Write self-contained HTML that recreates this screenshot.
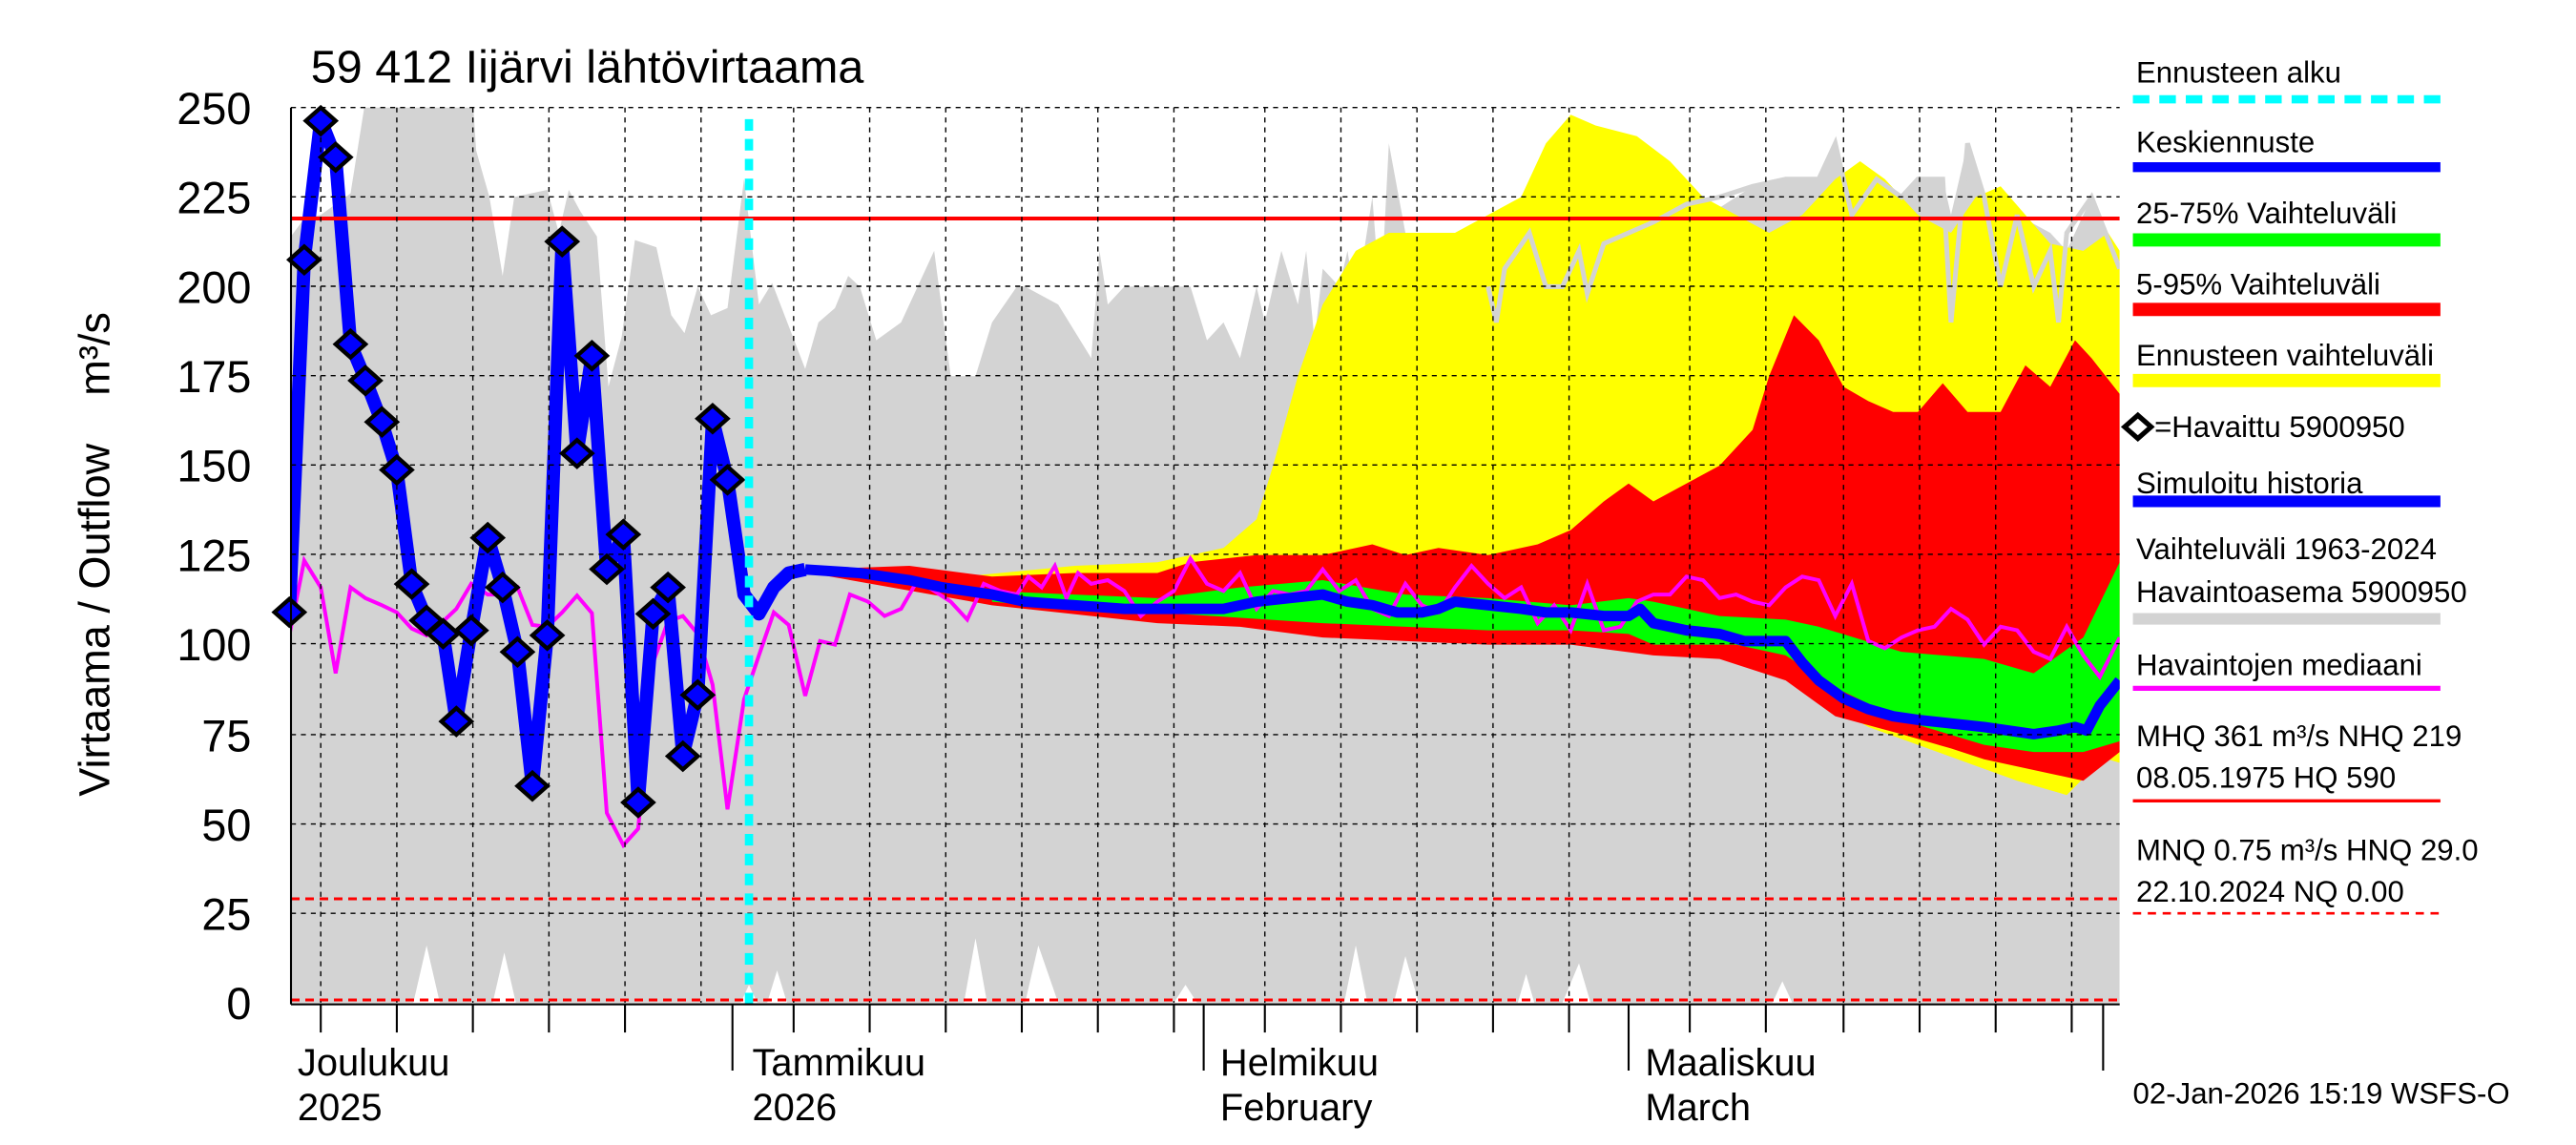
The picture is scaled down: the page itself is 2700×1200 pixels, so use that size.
<!DOCTYPE html>
<html><head><meta charset="utf-8"><style>
html,body{margin:0;padding:0;background:#fff;}
svg{display:block;}
text{font-family:"Liberation Sans",sans-serif;fill:#000;}
</style></head><body>
<svg width="2700" height="1200" viewBox="0 0 1558 692" preserveAspectRatio="none" xmlns="http://www.w3.org/2000/svg">
<defs><clipPath id="pc"><rect x="176" y="65" width="1106" height="542"/></clipPath></defs>
<g clip-path="url(#pc)">
<g transform="translate(0,606) scale(1,-2.164)">
<polygon fill="#d3d3d3" points="176,0 176,214 184,219 194,220 212,226 221,252 286,252 288,238 296,225 304,203 311,225 331,227 338,215 344,227 351,221 361,214 368,172 376,186 384,213 397,211 406,192 414,187 422,200 430,192 440,194 450,230 459,195 467,201 477,189 487,177 495,190 505,194 513,203 520,200 530,185 545,190 560,205 565,210 575,175 590,175 600,190 615,200 620,200 640,195 660,180 665,210 670,195 680,200 700,200 720,200 730,185 740,190 750,180 760,200 765,190 775,210 785,195 790,210 795,185 800,205 810,200 815,210 820,195 830,225 835,195 840,240 850,215 860,200 870,195 880,200 890,210 900,200 905,190 910,205 925,215 935,225 945,222 955,230 970,225 985,230 1000,230 1020,228 1040,222 1060,228 1080,230 1100,230 1110,240 1120,220 1135,230 1150,225 1160,230 1175,230 1180,220 1190,240 1200,225 1210,200 1220,220 1240,215 1250,210 1265,225 1282,205 1282,0"/>
<g fill="#fff">
<polygon points="250,0 258,16 266,0"/><polygon points="298,0 305,14 312,0"/>
<polygon points="448,0 453,5 458,0"/><polygon points="464,0 470,9 476,0"/>
<polygon points="583,0 590,18 597,0"/><polygon points="620,0 628,16 640,0"/>
<polygon points="710,0 717,5 724,0"/><polygon points="813,0 820,16 827,0"/>
<polygon points="843,0 850,13 858,0"/><polygon points="918,0 923,8 928,0"/>
<polygon points="945,0 955,11 962,0"/><polygon points="1072,0 1078,6 1084,0"/>
</g>
<polygon fill="#ffff00" points="490,120 560,118 650,122 700,123 740,127 760,135 770,150 785,175 800,195 820,210 840,215 860,215 880,215 900,220 920,225 935,240 950,248 965,245 990,242 1010,235 1030,225 1050,220 1070,215 1090,220 1100,225 1110,230 1125,235 1140,230 1160,220 1180,215 1195,225 1210,228 1225,220 1240,212 1260,210 1275,215 1282,210 1282,67 1275,68 1265,65 1250,58 1220,62 1190,67 1160,72 1130,77 1100,85 1080,92 1060,97 1000,98 950,101 900,102 800,104 700,108 600,112"/>
<polygon fill="#ff0000" points="490,121 550,122 600,119 650,120 700,120 720,123 760,125 800,125 830,128 850,125 870,127 900,125 930,128 950,132 970,140 985,145 1000,140 1020,145 1040,150 1060,160 1070,175 1085,192 1100,185 1115,172 1130,168 1145,165 1160,165 1175,173 1190,165 1210,165 1225,178 1240,172 1255,185 1265,180 1282,170 1282,70 1260,62 1240,64 1200,68 1180,71 1150,75 1110,80 1080,90 1040,96 1000,97 950,100 900,100 800,102 750,105 700,106 600,111 490,120"/>
<polygon fill="#00ff00" points="600,115 650,114 700,113 750,116 800,118 850,114 900,113 950,111 985,113 1000,112 1040,108 1080,107 1100,105 1150,98 1200,96 1230,92 1260,102 1282,123 1282,73 1260,70 1230,70 1200,72 1150,79 1110,88 1080,97 1050,100 1000,100 985,103 950,104 900,104 800,106 700,109 650,110 600,112"/>
<polyline fill="none" stroke="#d3d3d3" stroke-width="5" vector-effect="non-scaling-stroke" points="900,200 905,190 910,205 925,215 935,200 945,200 955,210 960,198 970,212 985,215 1000,218 1020,223 1040,225 1060,228 1080,230 1100,230 1110,240 1120,220 1135,230 1150,225 1160,230 1175,230 1180,190 1190,240 1200,225 1210,200 1220,220 1230,200 1240,210 1245,190 1250,215 1265,225 1282,205"/>
<polyline fill="none" stroke="#ff00ff" stroke-width="4" vector-effect="non-scaling-stroke" points="175,102.6 184,123.5 194,116 203,92 212,116 221,113 231,111 240,109 249,104.5 258,102.6 268,106.5 276,110 285,117 295,114 304,114 313,116 322,105.5 331,105 340,109 349,113.7 358,108.8 367,53 377,44 386,48.6 395,95 404,106.5 413,108 422,103 431,88.8 440,54 450,84.7 459,97 468,109 477,105.5 487,85.7 496,101 505,100 514,114 525,112 535,108 545,110 555,118 565,115 575,112 585,107 595,117 605,115 615,114 622,119 630,116 638,122 645,113 652,120 660,117 670,118 680,115 690,108 700,112 710,115 720,124 730,117 740,115 750,120 760,110 770,115 780,114 790,115 800,121 810,115 820,118 830,110 840,108 850,117 860,111 870,109 880,116 890,122 900,117 910,113 920,116 930,106 940,111 950,104 960,117 970,104 980,105 990,112 1000,114 1010,114 1020,119 1030,118 1040,113 1050,114 1060,112 1070,111 1080,116 1090,119 1100,118 1110,108 1120,117 1130,101 1140,99 1150,102 1160,104 1170,105 1180,110 1190,107 1200,100 1210,105 1220,104 1230,98 1240,96 1250,105 1260,97 1270,91 1282,102"/>
<polyline fill="none" stroke="#0000ff" stroke-width="11" vector-effect="non-scaling-stroke" stroke-linejoin="round" points="487,121 520,120 550,118 570,116 600,114 620,112 650,111 680,110 700,110 720,110 740,110 760,112 780,113 800,114 815,112 830,111 845,109 860,109 870,110 880,112 900,111 920,110 935,109 950,109 970,108 985,108 992,110 1000,106 1020,104 1040,103 1055,101 1070,101 1080,101 1090,95 1100,90 1115,85 1130,82 1145,80 1160,79 1180,78 1200,77 1215,76 1230,75 1245,76 1255,77 1262,76 1270,83 1282,90"/>
<polyline fill="none" stroke="#0000ff" stroke-width="14" vector-effect="non-scaling-stroke" stroke-linejoin="round" points="175,109 184,207.5 194,246.5 203,236 212,184 221,174 231,162 240,148.6 249,117 258,107 268,103 276,78.6 285,104 295,130 304,116 313,98 322,60.6 331,102.7 340,212.6 349,153.5 358,180.6 367,121 377,130.6 386,56 395,108.6 404,116 413,69 422,86 431,163 440,146 450,114 459,108.6 468,116 477,120 487,121"/>
<line x1="176" x2="1282" y1="219" y2="219" stroke="#ff0000" stroke-width="4" vector-effect="non-scaling-stroke"/>
<line x1="176" x2="1282" y1="29" y2="29" stroke="#ff0000" stroke-width="3" stroke-dasharray="9,6" vector-effect="non-scaling-stroke"/>
<line x1="176" x2="1282" y1="0.75" y2="0.75" stroke="#ff0000" stroke-width="3" stroke-dasharray="9,6" vector-effect="non-scaling-stroke"/>
</g>
</g>
<g stroke="#000" stroke-width="0.8" stroke-dasharray="3,3">
<line x1="176" x2="1282" y1="65" y2="65"/><line x1="176" x2="1282" y1="119" y2="119"/><line x1="176" x2="1282" y1="173" y2="173"/><line x1="176" x2="1282" y1="227" y2="227"/><line x1="176" x2="1282" y1="281" y2="281"/><line x1="176" x2="1282" y1="335" y2="335"/><line x1="176" x2="1282" y1="389" y2="389"/><line x1="176" x2="1282" y1="444" y2="444"/><line x1="176" x2="1282" y1="498" y2="498"/><line x1="176" x2="1282" y1="552" y2="552"/>
<line x1="194" x2="194" y1="65" y2="606"/><line x1="240" x2="240" y1="65" y2="606"/><line x1="286" x2="286" y1="65" y2="606"/><line x1="332" x2="332" y1="65" y2="606"/><line x1="378" x2="378" y1="65" y2="606"/><line x1="424" x2="424" y1="65" y2="606"/>
<line x1="480" x2="480" y1="65" y2="606"/><line x1="526" x2="526" y1="65" y2="606"/><line x1="572" x2="572" y1="65" y2="606"/><line x1="618" x2="618" y1="65" y2="606"/><line x1="664" x2="664" y1="65" y2="606"/><line x1="710" x2="710" y1="65" y2="606"/>
<line x1="765" x2="765" y1="65" y2="606"/><line x1="811" x2="811" y1="65" y2="606"/><line x1="857" x2="857" y1="65" y2="606"/><line x1="903" x2="903" y1="65" y2="606"/><line x1="949" x2="949" y1="65" y2="606"/>
<line x1="1022" x2="1022" y1="65" y2="606"/><line x1="1068" x2="1068" y1="65" y2="606"/><line x1="1115" x2="1115" y1="65" y2="606"/><line x1="1161" x2="1161" y1="65" y2="606"/><line x1="1207" x2="1207" y1="65" y2="606"/><line x1="1253" x2="1253" y1="65" y2="606"/>
</g>
<g fill="#0000ff" stroke="#000" stroke-width="2.5">
<polygon points="166,370 175,362 184,370 175,378"/><polygon points="175,157 184,149 193,157 184,165"/><polygon points="185,73 194,65 203,73 194,81"/><polygon points="194,95 203,87 212,95 203,103"/><polygon points="203,208 212,200 221,208 212,216"/><polygon points="212,230 221,222 230,230 221,238"/><polygon points="222,255 231,247 240,255 231,263"/><polygon points="231,284 240,276 249,284 240,292"/><polygon points="240,353 249,345 258,353 249,361"/><polygon points="249,375 258,367 267,375 258,383"/><polygon points="259,383 268,375 277,383 268,391"/><polygon points="267,436 276,428 285,436 276,444"/><polygon points="276,381 285,373 294,381 285,389"/><polygon points="286,325 295,317 304,325 295,333"/><polygon points="295,355 304,347 313,355 304,363"/><polygon points="304,394 313,386 322,394 313,402"/><polygon points="313,475 322,467 331,475 322,483"/><polygon points="322,384 331,376 340,384 331,392"/><polygon points="331,146 340,138 349,146 340,154"/><polygon points="340,274 349,266 358,274 349,282"/><polygon points="349,215 358,207 367,215 358,223"/><polygon points="358,344 367,336 376,344 367,352"/><polygon points="368,323 377,315 386,323 377,331"/><polygon points="377,485 386,477 395,485 386,493"/><polygon points="386,371 395,363 404,371 395,379"/><polygon points="395,355 404,347 413,355 404,363"/><polygon points="404,457 413,449 422,457 413,465"/><polygon points="413,420 422,412 431,420 422,428"/><polygon points="422,253 431,245 440,253 431,261"/><polygon points="431,290 440,282 449,290 440,298"/>
</g>
<line x1="453" x2="453" y1="72" y2="607" stroke="#00ffff" stroke-width="5" stroke-dasharray="7,5"/>
<g stroke="#000" stroke-width="1.2">
<line x1="176" x2="176" y1="65" y2="607"/><line x1="176" x2="1282" y1="607" y2="607"/>
<line x1="443" x2="443" y1="607" y2="647"/><line x1="728" x2="728" y1="607" y2="647"/><line x1="985" x2="985" y1="607" y2="647"/><line x1="1272" x2="1272" y1="607" y2="647"/>
<line x1="194" x2="194" y1="607" y2="624"/><line x1="240" x2="240" y1="607" y2="624"/><line x1="286" x2="286" y1="607" y2="624"/><line x1="332" x2="332" y1="607" y2="624"/><line x1="378" x2="378" y1="607" y2="624"/>
<line x1="480" x2="480" y1="607" y2="624"/><line x1="526" x2="526" y1="607" y2="624"/><line x1="572" x2="572" y1="607" y2="624"/><line x1="618" x2="618" y1="607" y2="624"/><line x1="664" x2="664" y1="607" y2="624"/><line x1="710" x2="710" y1="607" y2="624"/>
<line x1="765" x2="765" y1="607" y2="624"/><line x1="811" x2="811" y1="607" y2="624"/><line x1="857" x2="857" y1="607" y2="624"/><line x1="903" x2="903" y1="607" y2="624"/><line x1="949" x2="949" y1="607" y2="624"/>
<line x1="1022" x2="1022" y1="607" y2="624"/><line x1="1068" x2="1068" y1="607" y2="624"/><line x1="1115" x2="1115" y1="607" y2="624"/><line x1="1161" x2="1161" y1="607" y2="624"/><line x1="1207" x2="1207" y1="607" y2="624"/><line x1="1253" x2="1253" y1="607" y2="624"/>
</g>
<g font-size="27" text-anchor="end">
<text x="152" y="75">250</text><text x="152" y="129">225</text><text x="152" y="183">200</text><text x="152" y="237">175</text><text x="152" y="291">150</text><text x="152" y="345">125</text><text x="152" y="399">100</text><text x="152" y="454">75</text><text x="152" y="508">50</text><text x="152" y="562">25</text><text x="152" y="616">0</text>
</g>
<text transform="translate(66,335) rotate(-90)" font-size="26" text-anchor="middle" xml:space="preserve">Virtaama / Outflow    m³/s</text>
<text x="188" y="50" font-size="28">59 412 Iijärvi lähtövirtaama</text>
<g font-size="23">
<text x="180" y="650">Joulukuu</text><text x="180" y="677">2025</text>
<text x="455" y="650">Tammikuu</text><text x="455" y="677">2026</text>
<text x="738" y="650">Helmikuu</text><text x="738" y="677">February</text>
<text x="995" y="650">Maaliskuu</text><text x="995" y="677">March</text>
</g>
<g font-size="18">
<text x="1292" y="50">Ennusteen alku</text>
<line x1="1290" x2="1476" y1="60" y2="60" stroke="#00ffff" stroke-width="5" stroke-dasharray="10,6"/>
<text x="1292" y="92">Keskiennuste</text>
<line x1="1290" x2="1476" y1="101" y2="101" stroke="#0000ff" stroke-width="6"/>
<text x="1292" y="135">25-75% Vaihteluväli</text>
<line x1="1290" x2="1476" y1="145" y2="145" stroke="#00ff00" stroke-width="8"/>
<text x="1292" y="178">5-95% Vaihteluväli</text>
<line x1="1290" x2="1476" y1="187" y2="187" stroke="#ff0000" stroke-width="8"/>
<text x="1292" y="221">Ennusteen vaihteluväli</text>
<line x1="1290" x2="1476" y1="230" y2="230" stroke="#ffff00" stroke-width="8"/>
<polygon points="1285,258 1293,251 1301,258 1293,265" fill="none" stroke="#000" stroke-width="3"/>
<text x="1303" y="264">=Havaittu 5900950</text>
<text x="1292" y="298">Simuloitu historia</text>
<line x1="1290" x2="1476" y1="303" y2="303" stroke="#0000ff" stroke-width="7"/>
<text x="1292" y="338">Vaihteluväli 1963-2024</text>
<text x="1292" y="364">Havaintoasema 5900950</text>
<line x1="1290" x2="1476" y1="374" y2="374" stroke="#d3d3d3" stroke-width="7"/>
<text x="1292" y="408">Havaintojen mediaani</text>
<line x1="1290" x2="1476" y1="416" y2="416" stroke="#ff00ff" stroke-width="3"/>
<text x="1292" y="451">MHQ  361 m³/s NHQ  219</text>
<text x="1292" y="476">08.05.1975 HQ  590</text>
<line x1="1290" x2="1476" y1="484" y2="484" stroke="#ff0000" stroke-width="2"/>
<text x="1292" y="520">MNQ 0.75 m³/s HNQ 29.0</text>
<text x="1292" y="545">22.10.2024 NQ 0.00</text>
<line x1="1290" x2="1476" y1="552" y2="552" stroke="#ff0000" stroke-width="1.5" stroke-dasharray="5,4"/>
<text x="1290" y="667">02-Jan-2026 15:19 WSFS-O</text>
</g>
</svg>
</body></html>
